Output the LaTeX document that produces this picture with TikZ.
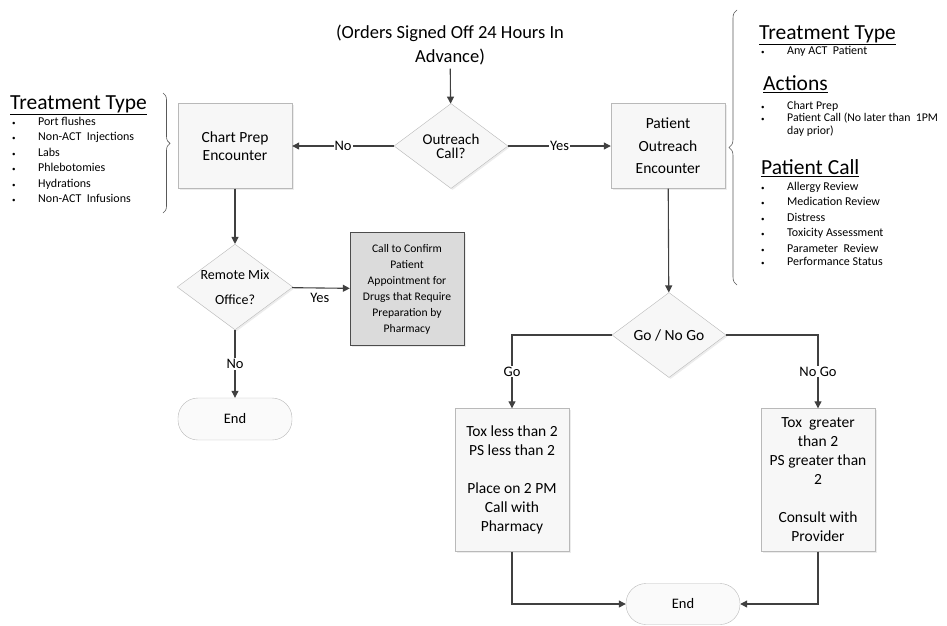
\documentclass[tikz,border=0pt]{standalone}
\usepackage{fontspec}
\setmainfont{Carlito}
\usetikzlibrary{shapes.geometric,arrows.meta,decorations.pathreplacing,shadows}
\newcommand{\itm}{\makebox[26pt][l]{\scriptsize\textbullet}}
\begin{document}
\begin{tikzpicture}
[x=1pt,y=-1pt,font=\fontsize{15.5}{18}\selectfont,
  box/.style={draw=gray!55,fill=gray!6,minimum width=114pt,minimum height=85pt,align=center,inner sep=2pt,
              drop shadow={opacity=0.15,shadow xshift=1.5pt,shadow yshift=-1.5pt}},
  dec/.style={diamond,draw=gray!55,fill=gray!6,shape aspect=1.35,inner sep=0pt,minimum width=114pt,
              minimum height=85pt,align=center,drop shadow={opacity=0.15,shadow xshift=1.5pt,shadow yshift=-1.5pt}},
  term/.style={draw=gray!55,fill=gray!4,rounded corners=20pt,minimum width=114pt,minimum height=42pt,
               font=\fontsize{14.5}{16}\selectfont},
  arr/.style={draw=black!75,line width=1.1pt,-{Triangle[length=7pt,width=7pt]}},
  lbl/.style={fill=white,inner sep=1pt,font=\fontsize{14.5}{16}\selectfont},
  brc/.style={draw=gray!70!black,line width=0.6pt,decorate},
  hd/.style={anchor=west,inner sep=0pt,font=\fontsize{21.5}{24}\selectfont},
  lst/.style={anchor=north west,inner sep=0pt,align=left,font=\fontsize{12}{15.4}\selectfont}]
  \useasboundingbox (0,0) rectangle (947,625);
  % main flow
  \node[font=\fontsize{18.5}{24}\selectfont,align=center] (orders) at (450,45) {(Orders Signed Off 24 Hours In\\Advance)};
  \node[dec,font=\fontsize{15}{14}\selectfont] (outreach) at (451,146) {Outreach\\Call?};
  \node[box] (chart) at (235,146) {Chart Prep\\Encounter};
  \node[box] (patient) at (668,146) {Patient\\[5pt]Outreach\\[4pt]Encounter};
  % left branch
  \node[dec,font=\fontsize{14}{15}\selectfont] (remote) at (235,287) {Remote Mix\\[10pt]Office?};
  \node[box,fill=gray!28,draw=gray!60!black,minimum height=113pt,font=\fontsize{11.6}{16}\selectfont] (confirm) at (407,289)
    {Call to Confirm\\Patient\\Appointment for\\Drugs that Require\\Preparation by\\Pharmacy};
  \node[term] (end1) at (235,419) {End};
  % right branch
  \node[dec,font=\fontsize{15.5}{16}\selectfont] (gonogo) at (669,335) {\raisebox{-5pt}{Go / No Go}};
  \node[box,minimum height=143pt,font=\fontsize{15.5}{19}\selectfont] (less) at (512,480)
    {Tox less than 2\\PS less than 2\\[19pt]Place on 2 PM\\Call with\\Pharmacy};
  \node[box,minimum height=143pt,font=\fontsize{15.5}{19}\selectfont] (greater) at (818,480)
    {Tox\ \ greater\\than 2\\PS greater than\\2\\[19pt]Consult with\\Provider};
  \node[term,minimum height=41pt] (end2) at (683,604) {End};
  % connectors
  \draw[arr] (orders) -- (outreach);
  \draw[arr] (outreach) -- node[lbl]{No} (chart);
  \draw[arr] (outreach) -- node[lbl]{Yes} (patient);
  \draw[arr] (chart) -- (remote);
  \draw[arr] (remote) -- node[lbl,pos=0.48,yshift=-10pt,fill=none]{Yes} (confirm);
  \draw[arr] (remote) -- node[lbl]{No} (end1);
  \draw[arr] (patient) -- (gonogo);
  \draw[arr] (gonogo) -| node[lbl,pos=0.75]{Go} (less);
  \draw[arr] (gonogo) -| node[lbl,pos=0.75]{No Go} (greater);
  \draw[arr] (less) |- (end2);
  \draw[arr] (greater) |- (end2);
  % side notes
  \draw[brc,decoration={brace,amplitude=7pt,aspect=0.42}] (163,93) -- (163,213);
  \draw[brc,decoration={brace,amplitude=8pt,aspect=0.5}] (737,285) -- (737,10);
  \node[hd] (lhead) at (10,105) {\underline{Treatment Type}};
  \node[lst] (llist) at (12,117) {\itm Port flushes\\\itm Non-ACT\ \ Injections\\\itm Labs\\\itm Phlebotomies\\\itm Hydrations\\\itm Non-ACT\ \ Infusions};
  \node[hd] (rhead1) at (759,35) {\underline{Treatment Type}};
  \node[lst] (rlist1) at (761,46) {\itm Any ACT\ \ Patient};
  \node[hd] (rhead2) at (763,84) {\underline{Actions}};
  \node[lst,font=\fontsize{11.8}{12.5}\selectfont] (rlist2) at (761,101)
    {\itm Chart Prep\\\itm Patient Call (No later than\ \ 1PM\\\hphantom{\itm}day prior)};
  \node[hd] (rhead3) at (761,168) {\underline{Patient Call}};
  \node[lst] (rlist3) at (761,182) {\itm Allergy Review\\\itm Medication Review\\\itm Distress\\\itm Toxicity Assessment\\\itm Parameter\ \ Review\\[-2.5pt]\itm Performance Status};
\end{tikzpicture}
\end{document}
